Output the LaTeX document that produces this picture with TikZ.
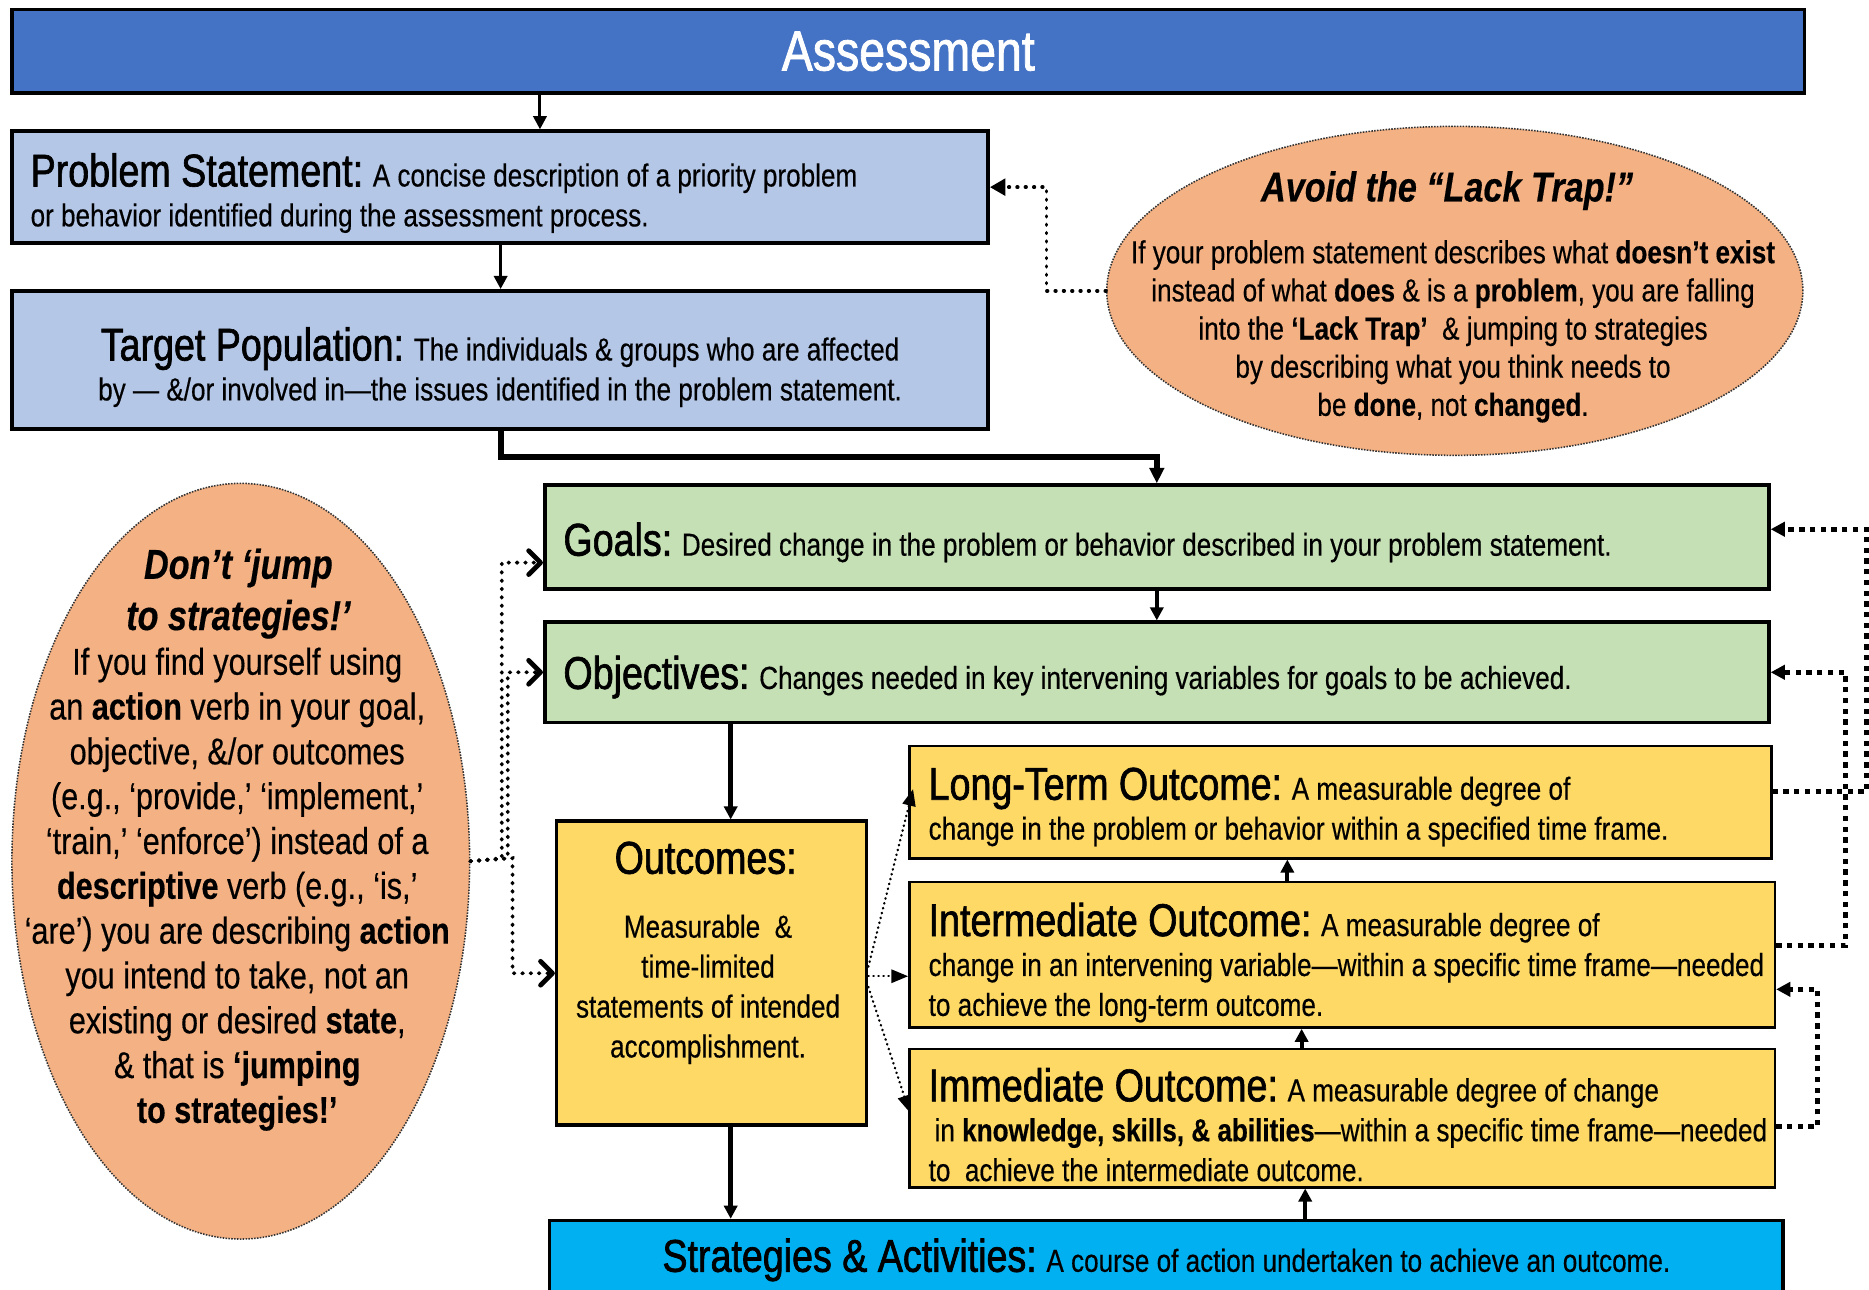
\documentclass[tikz,border=0pt]{standalone}
\usepackage{fontspec}
\setmainfont{Liberation Sans}[FakeStretch=0.82,FakeBold=0.4]
\newfontfamily\tfam{Liberation Sans}[FakeStretch=0.82,FakeBold=1.4]
\usetikzlibrary{arrows.meta,shapes.geometric}
\definecolor{cAss}{HTML}{4472C4}
\definecolor{cBlue}{HTML}{B4C7E7}
\definecolor{cGreen}{HTML}{C5E0B4}
\definecolor{cYel}{HTML}{FFD966}
\definecolor{cCyan}{HTML}{00B0F0}
\definecolor{cOra}{HTML}{F4B183}
\newcommand\tsz{\tfam\fontsize{38.5}{40}\selectfont}
\newcommand\bsz{\fontsize{26.7}{33.5}\selectfont}
\newcommand\lsz{\fontsize{26.7}{32}\selectfont}
\newcommand\dsz{\fontsize{31.3}{37.6}\selectfont}
\newcommand\hsz{\fontsize{35}{43}\selectfont}
\begin{document}
\begin{tikzpicture}[x=1pt,y=-1pt,
  box/.style={draw=black,line width=3pt,rectangle,inner sep=0pt},
  ybox/.style={box,fill=cYel,line width=2.2pt},
  txt/.style={inner sep=0pt,font=\bsz,align=left,anchor=west},
  ctxt/.style={inner sep=0pt,font=\bsz,align=center},
  oval/.style={ellipse,fill=cOra,draw=black!80,line width=1.3pt,dash pattern=on 1.3pt off 1.1pt,inner sep=0pt},
  arr/.style={-{Triangle[length=11pt,width=11pt]},line width=3pt},
  thinarr/.style={-{Triangle[length=13pt,width=14pt]},line width=3pt,line cap=round,dash pattern=on 0.6pt off 6.4pt},
  finearr/.style={-{Triangle[length=14pt,width=11pt]},line width=2pt,line cap=round,dash pattern=on 0.4pt off 3.8pt},
  chev/.style={-{Straight Barb[length=10pt,width=20pt,line width=4pt,round]},line width=3.2pt,line cap=round,dash pattern=on 0.6pt off 6.4pt},
  fbarr/.style={-{Triangle[length=12pt,width=12pt]},line width=4pt,dash pattern=on 4.5pt off 4.5pt}
]
\useasboundingbox (0,0) rectangle (1568,1082);
\clip (0,0) rectangle (1568,1082);
\fill[white] (0,0) rectangle (1568,1082);

% boxes
\node[box,fill=cAss,minimum width=1504pt,minimum height=70pt,text=white,font=\tfam\fontsize{47.5}{50}\selectfont] (assess) at (762,43) {Assessment};
\node[box,fill=cBlue,minimum width=819pt,minimum height=94pt] (prob) at (419.5,157) {};
\node[box,fill=cBlue,minimum width=819pt,minimum height=116pt] (targ) at (419.5,302) {};
\node[box,fill=cGreen,minimum width=1027pt,minimum height=87pt] (goals) at (970.5,450.5) {};
\node[box,fill=cGreen,minimum width=1027pt,minimum height=84pt] (obj) at (970.5,564) {};
\node[box,fill=cYel,minimum width=260pt,minimum height=255pt] (outc) at (597,816.5) {};
\node[ybox,minimum width=723pt,minimum height=94pt] (lt) at (1124.5,673) {};
\node[ybox,minimum width=726pt,minimum height=122pt] (mid) at (1126,801) {};
\node[ybox,minimum width=726pt,minimum height=116pt] (imm) at (1126,938) {};
\node[box,fill=cCyan,minimum width=1035pt,minimum height=62pt] (strat) at (978.5,1055) {};

% ellipses
\node[oval,minimum width=584pt,minimum height=276pt] (lack) at (1220.5,244) {};
\node[oval,minimum width=384pt,minimum height=634pt] (dont) at (202,722.5) {};

% texts
\node[txt] (probt) at ([xshift=17pt,yshift=-5pt]prob.west) {{\tsz Problem Statement:} A concise description of a priority problem\\or behavior identified during the assessment process.};
\node[ctxt] (targt) at ([yshift=-6pt]targ.center) {{\tsz Target Population:} The individuals \& groups who are affected\\by — \&/or involved in—the issues identified in the problem statement.};
\node[txt] (goalst) at ([xshift=17pt,yshift=-4.5pt]goals.west) {{\tsz Goals:} Desired change in the problem or behavior described in your problem statement.};
\node[txt] (objt) at ([xshift=17pt,yshift=-4pt]obj.west) {{\tsz Objectives:} Changes needed in key intervening variables for goals to be achieved.};
\node[txt] (ltt) at ([xshift=17pt,yshift=-4pt]lt.west) {{\tsz Long-Term Outcome:} A measurable degree of\\change in the problem or behavior within a specified time frame.};
\node[txt] (midt) at ([xshift=17pt,yshift=-6.6pt]mid.west) {{\tsz Intermediate Outcome:} A measurable degree of\\change in an intervening variable—within a specific time frame—needed\\to achieve the long-term outcome.};
\node[txt] (immt) at ([xshift=17pt,yshift=-5.6pt]imm.west) {{\tsz Immediate Outcome:} A measurable degree of change\\\hspace*{5pt}in \textbf{knowledge, skills, \& abilities}—within a specific time frame—needed\\to\ \ achieve the intermediate outcome.};
\node[ctxt] (stratt) at (978.5,1057) {{\tsz Strategies \& Activities:} A course of action undertaken to achieve an outcome.};
\node[inner sep=0pt,font=\tfam\fontsize{38.5}{40}\selectfont,anchor=base] (outct) at (592,733) {Outcomes:};
\node[ctxt] (outcb) at (594,830) {Measurable\ \ \&\\time-limited\\statements of intended\\accomplishment.};

\node[inner sep=0pt,anchor=base,font=\hsz\bfseries\itshape] (lackh) at (1214,169) {Avoid the “Lack Trap!”};
\node[ctxt,font=\lsz] (lackb) at (1219,278) {If your problem statement describes what \textbf{doesn’t exist}\\instead of what \textbf{does} \& is a \textbf{problem}, you are falling\\into the \textbf{‘Lack Trap’}\ \ \& jumping to strategies\\by describing what you think needs to\\be \textbf{done}, not \textbf{changed}.};

\node[ctxt,font=\hsz\bfseries\itshape] (donth) at (200,498) {Don’t ‘jump\\to strategies!’};
\node[ctxt,font=\dsz] (dontb) at (199,746) {If you find yourself using\\an \textbf{action} verb in your goal,\\objective, \&/or outcomes\\(e.g., ‘provide,’ ‘implement,’\\‘train,’ ‘enforce’) instead of a\\\textbf{descriptive} verb (e.g., ‘is,’\\‘are’) you are describing \textbf{action}\\you intend to take, not an\\existing or desired \textbf{state},\\\& that is \textbf{‘jumping}\\\textbf{to strategies!’}};

% solid connectors
\draw[arr,line width=2.5pt] (assess.south -| 453,0) -- (prob.north -| 453,0);
\draw[arr] (prob.south -| 420,0) -- (targ.north -| 420,0);
\draw[arr,line width=5pt,-{Triangle[length=13pt,width=12pt]}] (targ.south -| 420,0) -- (420,383) -| (goals.north);
\draw[arr,line width=3.5pt] (goals.south) -- (obj.north);
\draw[arr,line width=4pt] (obj.south -| 613,0) -- (outc.north -| 613,0);
\draw[arr,line width=4pt] (outc.south -| 613,0) -- (strat.north -| 613,0);
\draw[arr,line width=3.5pt] (mid.north -| 1080,0) -- (lt.south -| 1080,0);
\draw[arr,line width=3.5pt] (imm.north -| 1092,0) -- (mid.south -| 1092,0);
\draw[arr,line width=3.5pt] (strat.north -| 1095,0) -- (imm.south -| 1095,0);

% dotted connectors
\draw[thinarr] (lack.west) -- (878,244) |- (prob.east);
\draw[chev] (dont.east) -- (421,720) |- (goals.west |- 0,472);
\draw[chev] (dont.east) -- (426,720) |- (obj.west);
\draw[chev] (dont.east) -- (430,720) |- (outc.west);
\coordinate (ltin) at (766,662);
\coordinate (immin) at (763,933);
\draw[finearr] (outc.east |- 0,811) -- (ltin);
\draw[finearr] (outc.east |- 0,819) -- (mid.west |- 0,819);
\draw[finearr] (outc.east |- 0,828) -- (immin);

% feedback connectors
\draw[fbarr] (lt.east |- 0,664) -- (1566,664) |- (goals.east |- 0,444);
\draw[fbarr] (mid.east |- 0,793) -- (1548,793) |- (obj.east |- 0,564);
\draw[fbarr] (imm.east |- 0,945) -- (1525,945) |- (mid.east |- 0,830);
\end{tikzpicture}
\end{document}
